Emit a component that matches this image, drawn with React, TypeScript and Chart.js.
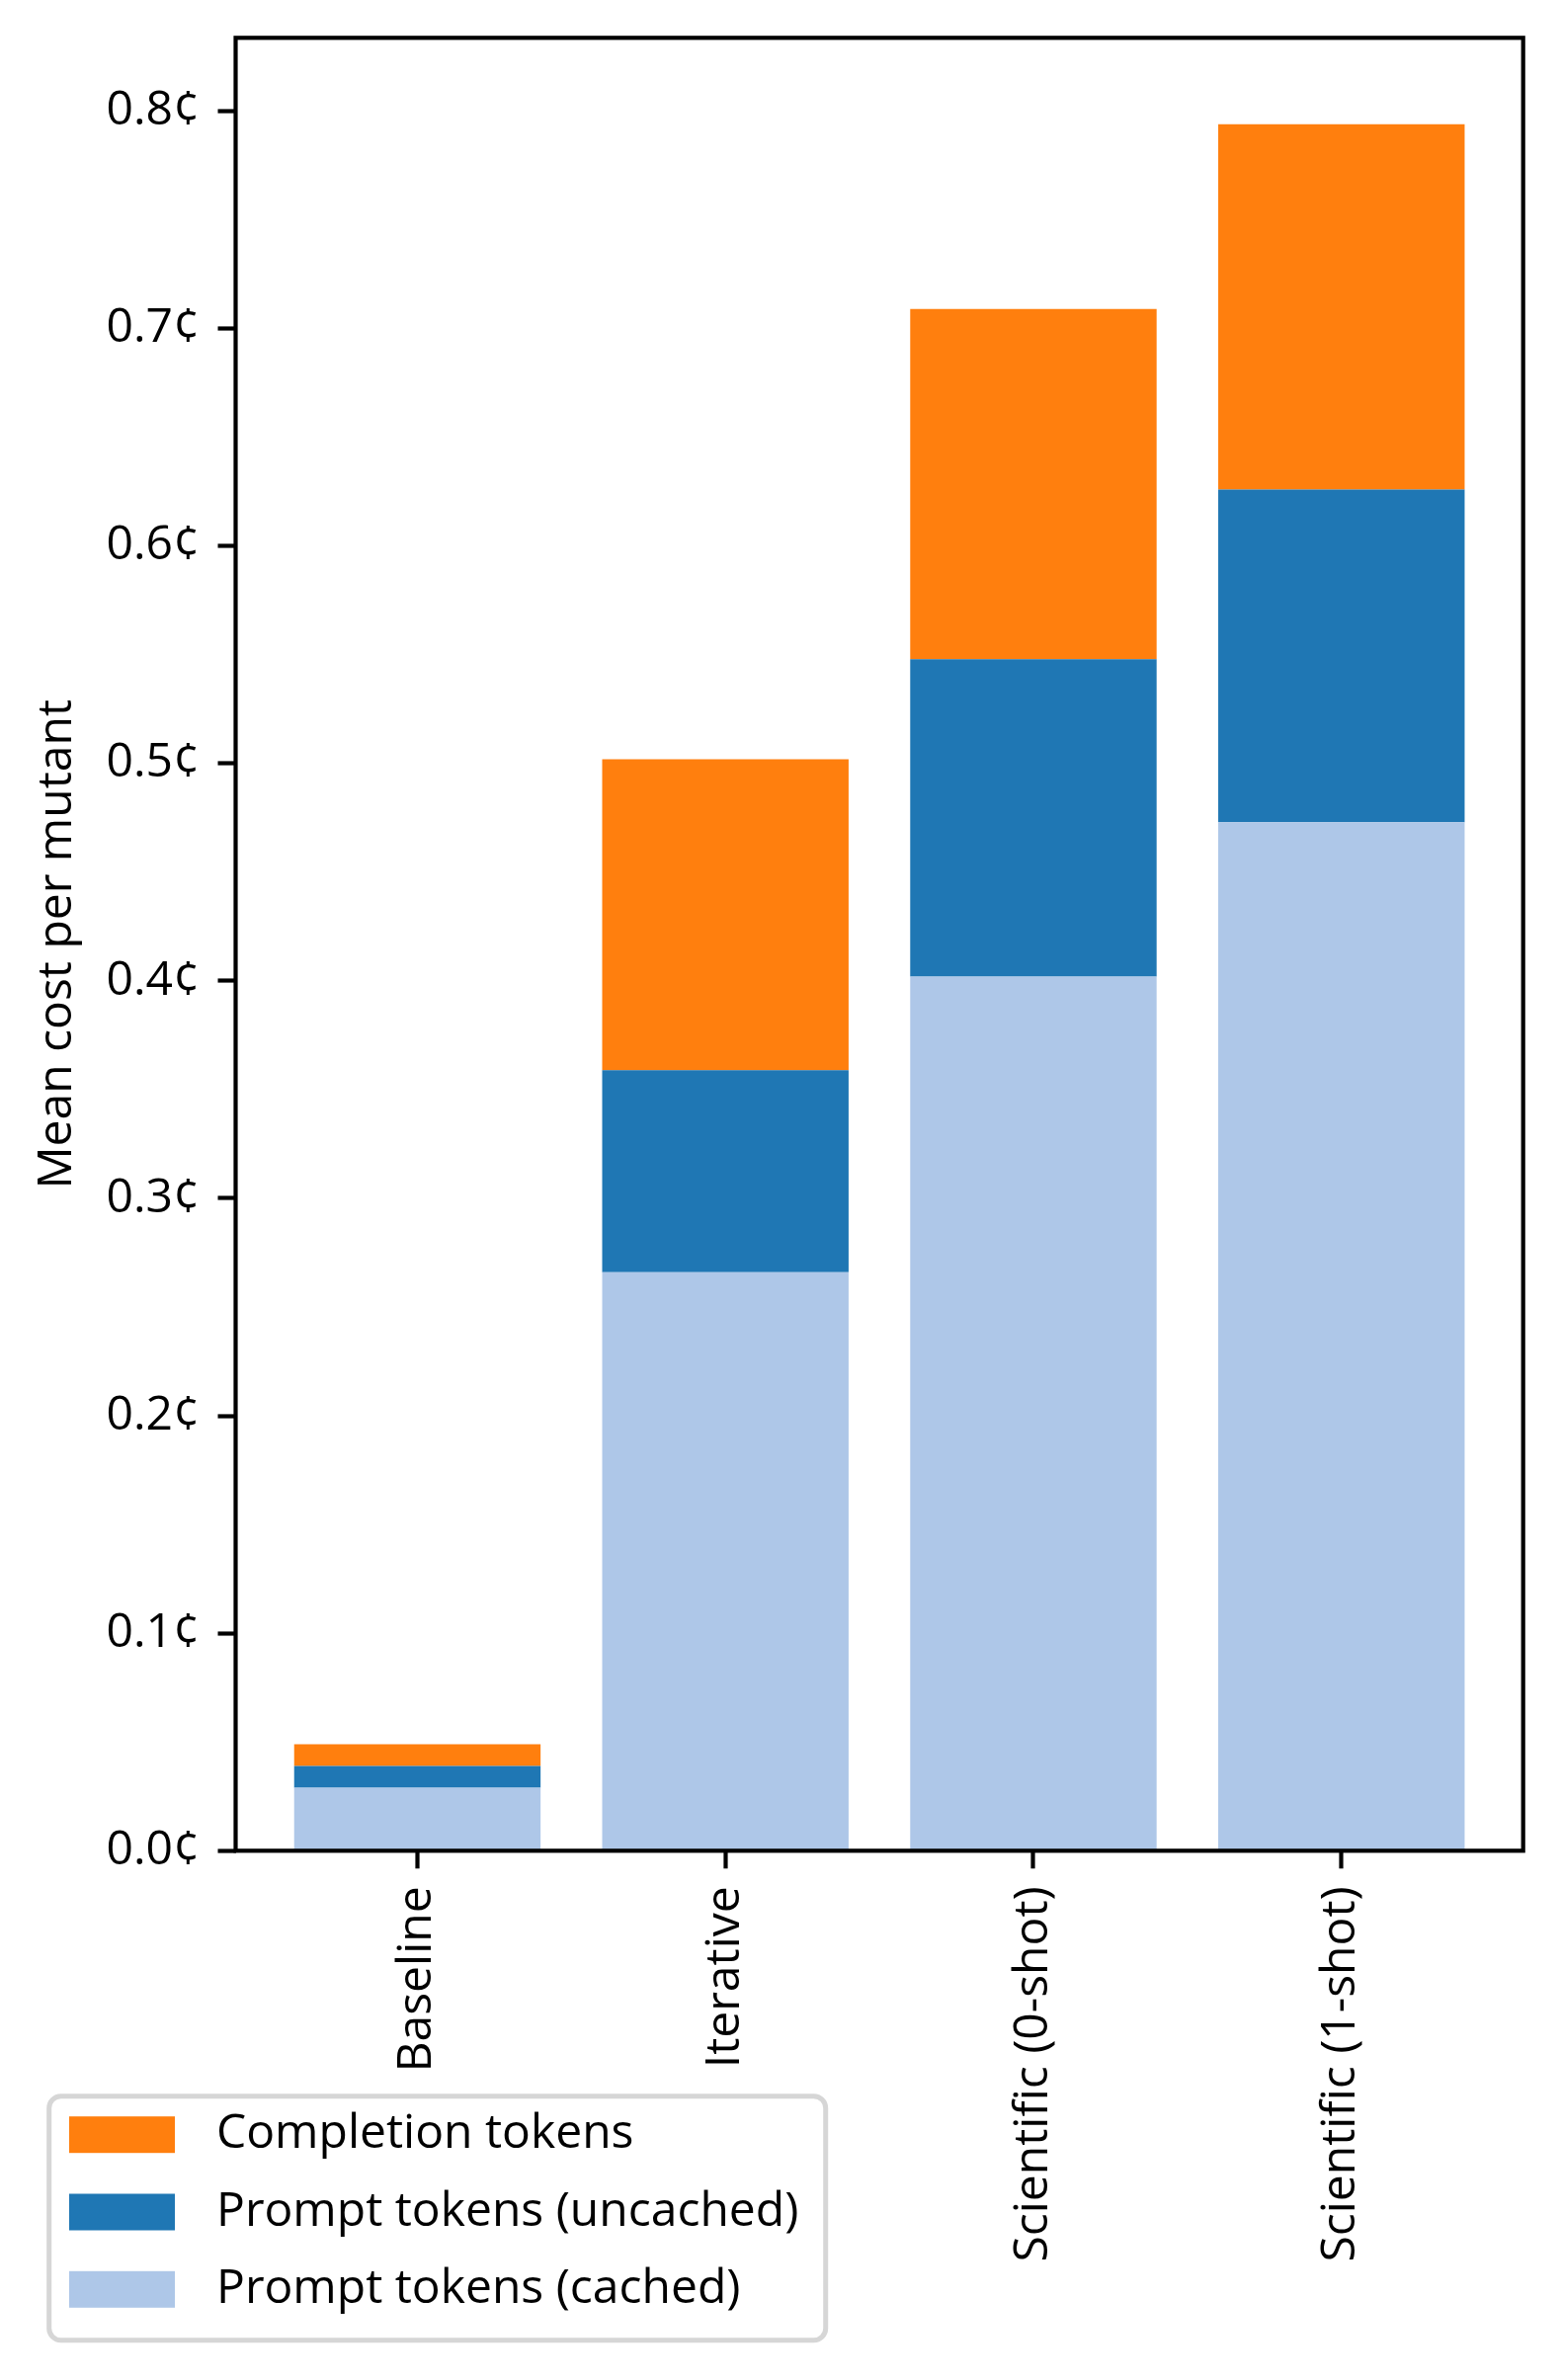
import { useEffect, useRef } from "react";
import { Chart, registerables } from "chart.js";

Chart.register(...registerables);

const categories = ["Baseline", "Iterative", "Scientific (0-shot)", "Scientific (1-shot)"];
const cachedCost = [0.029, 0.266, 0.402, 0.473];
const uncachedCost = [0.01, 0.093, 0.146, 0.153];
const completionCost = [0.01, 0.143, 0.161, 0.168];
const yTickValues = [0, 0.1, 0.2, 0.3, 0.4, 0.5, 0.6, 0.7, 0.8];

const FONT = "'Open Sans', sans-serif";
const FONT_SIZE = 48;
const LINE_W = 4.2;

// matplotlib-style frame around the plot area
const framePlugin = {
  id: "frame",
  afterDatasetsDraw(chart: any) {
    const { ctx, chartArea } = chart;
    ctx.save();
    ctx.strokeStyle = "#000";
    ctx.lineWidth = LINE_W;
    ctx.strokeRect(chartArea.left, chartArea.top, chartArea.right - chartArea.left, chartArea.bottom - chartArea.top);
    ctx.restore();
  },
};

// legend drawn in the lower-left corner, stacked vertically
const boxLegendPlugin = {
  id: "boxLegend",
  afterDraw(chart: any) {
    const ctx = chart.ctx;
    ctx.save();
    ctx.beginPath();
    ctx.roundRect(49.7, 2121.7, 786, 247, 12);
    ctx.fillStyle = "rgba(255,255,255,0.8)";
    ctx.fill();
    ctx.lineWidth = 5;
    ctx.strokeStyle = "#d6d6d6";
    ctx.stroke();
    const items = chart.data.datasets.slice().reverse();
    items.forEach((ds: any, i: number) => {
      const cy = 2160.7 + i * 78.3;
      ctx.fillStyle = ds.backgroundColor;
      ctx.fillRect(70, cy - 18.5, 107, 37);
      ctx.fillStyle = "#000";
      ctx.font = `${FONT_SIZE}px ${FONT}`;
      ctx.textBaseline = "middle";
      ctx.textAlign = "left";
      ctx.fillText(ds.label, 219, cy);
    });
    ctx.restore();
  },
};

const tickGrid = { drawOnChartArea: false, drawTicks: true, offset: false, tickLength: 18, tickWidth: LINE_W, tickColor: "#000" };

export default function App() {
  const canvasRef = useRef<HTMLCanvasElement>(null);
  const chartRef = useRef<Chart | null>(null);

  useEffect(() => {
    document.body.style.margin = "0";
    if (!canvasRef.current) return;
    if (chartRef.current) chartRef.current.destroy();

    const toPoints = (vals: number[]) => vals.map((v, i) => ({ x: i, y: v }));
    const totals = categories.map((_, i) => cachedCost[i] + uncachedCost[i] + completionCost[i]);
    const yMax = Math.max(...totals) * 1.05;

    chartRef.current = new Chart(canvasRef.current, {
      type: "bar",
      data: {
        datasets: [
          { label: "Prompt tokens (cached)", data: toPoints(cachedCost), backgroundColor: "#aec7e8" },
          { label: "Prompt tokens (uncached)", data: toPoints(uncachedCost), backgroundColor: "#1f77b4" },
          { label: "Completion tokens", data: toPoints(completionCost), backgroundColor: "#ff7f0e" },
        ],
      },
      options: {
        animation: false,
        responsive: false,
        layout: { padding: { top: 38.3, right: 38.3, left: 0, bottom: 0 } },
        datasets: { bar: { categoryPercentage: 1, barPercentage: 0.8, borderWidth: 0 } },
        plugins: { legend: { display: false }, tooltip: { enabled: false } },
        scales: {
          x: {
            type: "linear",
            offset: false,
            stacked: true,
            min: -0.59,
            max: 3.59,
            afterBuildTicks: (scale: any) => {
              scale.ticks = categories.map((_, i) => ({ value: i }));
            },
            afterFit: (scale: any) => {
              scale.height = 535.7;
              scale.paddingLeft = 0;
              scale.paddingRight = 0;
            },
            grid: tickGrid,
            border: { display: false },
            ticks: {
              autoSkip: false,
              minRotation: 90,
              maxRotation: 90,
              padding: 18,
              color: "#000",
              font: { family: FONT, size: FONT_SIZE },
              callback: (v: any) => categories[v as number],
            },
          },
          y: {
            stacked: true,
            min: 0,
            max: yMax,
            afterBuildTicks: (scale: any) => {
              scale.ticks = yTickValues.map((v) => ({ value: v }));
            },
            afterFit: (scale: any) => {
              scale.width = 238.5;
              scale.paddingTop = 0;
              scale.paddingBottom = 0;
            },
            grid: tickGrid,
            border: { display: false },
            ticks: {
              padding: 18,
              color: "#000",
              font: { family: FONT, size: FONT_SIZE },
              callback: (v: any) => `${Number(v).toFixed(1)}¢`,
            },
            title: {
              display: true,
              text: "Mean cost per mutant",
              color: "#000",
              font: { family: FONT, size: FONT_SIZE },
              padding: { top: 30, bottom: 0 },
            },
          },
        },
      },
      plugins: [framePlugin, boxLegendPlugin],
    });

    return () => {
      if (chartRef.current) {
        chartRef.current.destroy();
        chartRef.current = null;
      }
    };
  }, []);

  return (
    <div style={{ width: 1580, height: 2409, background: "#fff" }}>
      <canvas ref={canvasRef} width={1580} height={2409} style={{ display: "block" }} />
    </div>
  );
}
